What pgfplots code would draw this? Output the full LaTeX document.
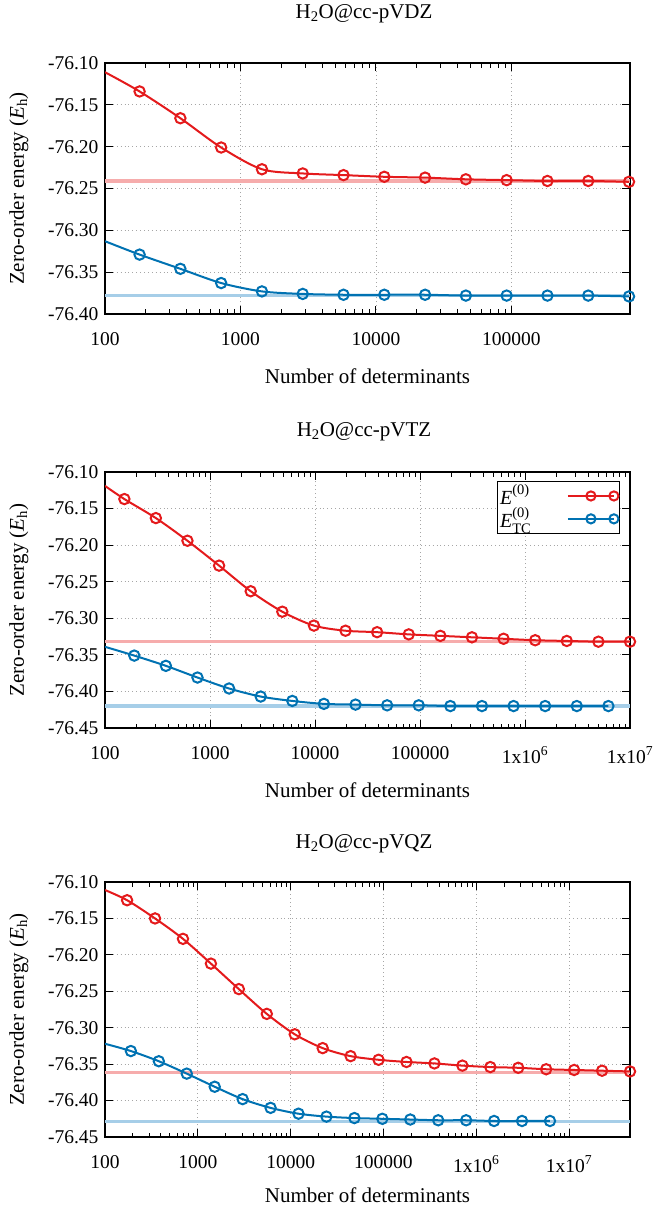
\documentclass[border=0pt]{standalone}
\usepackage{pgfplots}
\pgfplotsset{compat=1.18}
\usepackage{fontspec}
\setmainfont{Liberation Serif}
\definecolor{cred}{RGB}{228,26,28}
\definecolor{cblue}{RGB}{0,114,178}
\definecolor{credl}{RGB}{246,172,172}
\definecolor{cbluel}{RGB}{166,206,232}
\newcommand{\lfont}{\fontsize{21}{24}\selectfont}
\newcommand{\sfont}{\fontsize{14.5}{15}\selectfont}
\tikzset{
  redline/.style={cred, line width=2pt, smooth, mark=o, mark size=5.2pt, mark options={solid, line width=2pt}},
  blueline/.style={cblue, line width=2pt, smooth, mark=o, mark size=5.2pt, mark options={solid, line width=2pt}},
  refline/.style={line width=3.2pt},
}
\pgfplotsset{
  every axis/.append style={
    scale only axis, width=525pt, xmin=100,
    tick align=inside, major tick length=8pt, minor tick length=4.5pt,
    xtick pos=both, ytick pos=both,
    grid=major, grid style={gray!70, line width=0.8pt, dash pattern=on 0.9pt off 3pt},
    axis line style={line width=1.3pt},
    tick label style={font=\fontsize{19.5}{21}\selectfont},
    label style={font=\lfont},
    ylabel={Zero-order energy (\textit{E}\textsubscript{h})},
    xlabel={Number of determinants},
    ylabel style={at={(axis description cs:-0.164,0.5)}, anchor=center},
    xlabel style={at={(axis description cs:0.5,0)}, anchor=center, yshift=-62pt},
    xticklabel style={yshift=-12pt},
    ytick={-76.45,-76.40,-76.35,-76.30,-76.25,-76.20,-76.15,-76.10},
    yticklabels={-76.45,-76.40,-76.35,-76.30,-76.25,-76.20,-76.15,-76.10},
    ymax=-76.10,
  },
  every tick/.append style={black, line width=1pt},
}
\begin{document}
\fontsize{19}{22}\selectfont
\begin{tikzpicture}
\path[use as bounding box] (0pt,0pt) rectangle (654pt,-1207pt);

\node[font=\lfont] at (364pt,-14pt) {H\textsubscript{2}O@cc-pVDZ};
\node[font=\lfont] at (364pt,-432pt) {H\textsubscript{2}O@cc-pVTZ};
\node[font=\lfont] at (364pt,-844pt) {H\textsubscript{2}O@cc-pVQZ};

% cc-pVDZ
\begin{axis}[xmode=log, at={(105pt,-63pt)}, anchor=north west, height=251pt,
  xmax=750000, ymin=-76.40,
  xtick={100,1000,10000,100000}, xticklabels={100,1000,10000,100000}]
\addplot[refline, credl, forget plot] coordinates {(100,-76.241) (750000,-76.241)};
\addplot[refline, cbluel, forget plot] coordinates {(100,-76.378) (750000,-76.378)};
\addplot[redline, mark indices={2,...,14}] coordinates {
 (100,-76.111) (180,-76.134) (360,-76.166) (720,-76.201) (1440,-76.227)
 (2880,-76.232) (5760,-76.234) (11520,-76.236) (23040,-76.237) (46080,-76.239)
 (92160,-76.240) (184320,-76.241) (368640,-76.241) (737280,-76.242)};
\addplot[blueline, mark indices={2,...,14}] coordinates {
 (100,-76.313) (180,-76.329) (360,-76.346) (720,-76.363) (1440,-76.373)
 (2880,-76.376) (5760,-76.377) (11520,-76.377) (23040,-76.377) (46080,-76.378)
 (92160,-76.378) (184320,-76.378) (368640,-76.378) (737280,-76.379)};
\end{axis}

% cc-pVTZ
\begin{axis}[xmode=log, at={(105pt,-472pt)}, anchor=north west, height=256pt,
  xmax=10000000, ymin=-76.45,
  xtick={100,1000,10000,100000,1000000,10000000},
  xticklabels={100,1000,10000,100000,1x10\textsuperscript{6},1x10\textsuperscript{7}},
  legend style={at={(1,1)}, anchor=north east, xshift=-10pt, yshift=-9pt,
    draw=black, line width=1pt, inner sep=1pt, row sep=-4pt, column sep=34pt,
    font=\fontsize{20}{22}\selectfont,
    cells={anchor=west}, legend plot pos=right},
  legend image code/.code={\draw[mark repeat=2, mark phase=2, mark size=4.6pt] plot coordinates {(0pt,0pt) (23pt,0pt) (46pt,0pt)};}]
\addplot[refline, credl, forget plot] coordinates {(100,-76.332) (10000000,-76.332)};
\addplot[refline, cbluel, forget plot] coordinates {(100,-76.420) (10000000,-76.420)};
\addplot[redline, mark indices={2,...,18}] coordinates {
 (100,-76.119) (153,-76.137) (305,-76.163) (610,-76.194) (1221,-76.228)
 (2441,-76.263) (4883,-76.291) (9766,-76.310) (19531,-76.317) (39063,-76.319)
 (78125,-76.322) (156250,-76.324) (312500,-76.326) (625000,-76.328)
 (1250000,-76.330) (2500000,-76.331) (5000000,-76.332) (10000000,-76.332)};
\addlegendentry{\textit{E}\raisebox{0.5em}{\sfont(0)}}
\addplot[blueline, mark indices={2,...,17}] coordinates {
 (100,-76.339) (190,-76.351) (380,-76.365) (760,-76.381) (1520,-76.396)
 (3040,-76.407) (6080,-76.413) (12160,-76.417) (24320,-76.418) (48640,-76.419)
 (97280,-76.419) (194560,-76.420) (389120,-76.420) (778240,-76.420)
 (1556480,-76.420) (3112960,-76.420) (6225920,-76.420)};
\addlegendentry{\textit{E}\rlap{\raisebox{0.5em}{\sfont(0)}}\raisebox{-0.32em}{\sfont TC}}
\end{axis}

% cc-pVQZ
\begin{axis}[xmode=log, at={(105pt,-882pt)}, anchor=north west, height=255pt,
  xmax=45350912, ymin=-76.45,
  xlabel style={yshift=4pt},
  xtick={100,1000,10000,100000,1000000,10000000},
  xticklabels={100,1000,10000,100000,1x10\textsuperscript{6},1x10\textsuperscript{7}}]
\addplot[refline, credl, forget plot] coordinates {(100,-76.361) (45350912,-76.361)};
\addplot[refline, cbluel, forget plot] coordinates {(100,-76.429) (45350912,-76.429)};
\addplot[redline, mark indices={2,...,20}] coordinates {
 (100,-76.111) (173,-76.125) (346,-76.150) (692,-76.178) (1384,-76.212)
 (2768,-76.247) (5536,-76.281) (11072,-76.309) (22144,-76.328) (44288,-76.339)
 (88576,-76.344) (177152,-76.347) (354304,-76.349) (708608,-76.352)
 (1417216,-76.354) (2834432,-76.355) (5668864,-76.357) (11337728,-76.358)
 (22675456,-76.359) (45350912,-76.360)};
\addplot[blueline, mark indices={2,...,17}] coordinates {
 (100,-76.322) (190,-76.332) (380,-76.346) (760,-76.363) (1520,-76.381)
 (3040,-76.398) (6080,-76.410) (12160,-76.418) (24320,-76.422) (48640,-76.424)
 (97280,-76.425) (194560,-76.426) (389120,-76.427) (778240,-76.427)
 (1556480,-76.428) (3112960,-76.428) (6225920,-76.428)};
\end{axis}
\end{tikzpicture}
\end{document}
